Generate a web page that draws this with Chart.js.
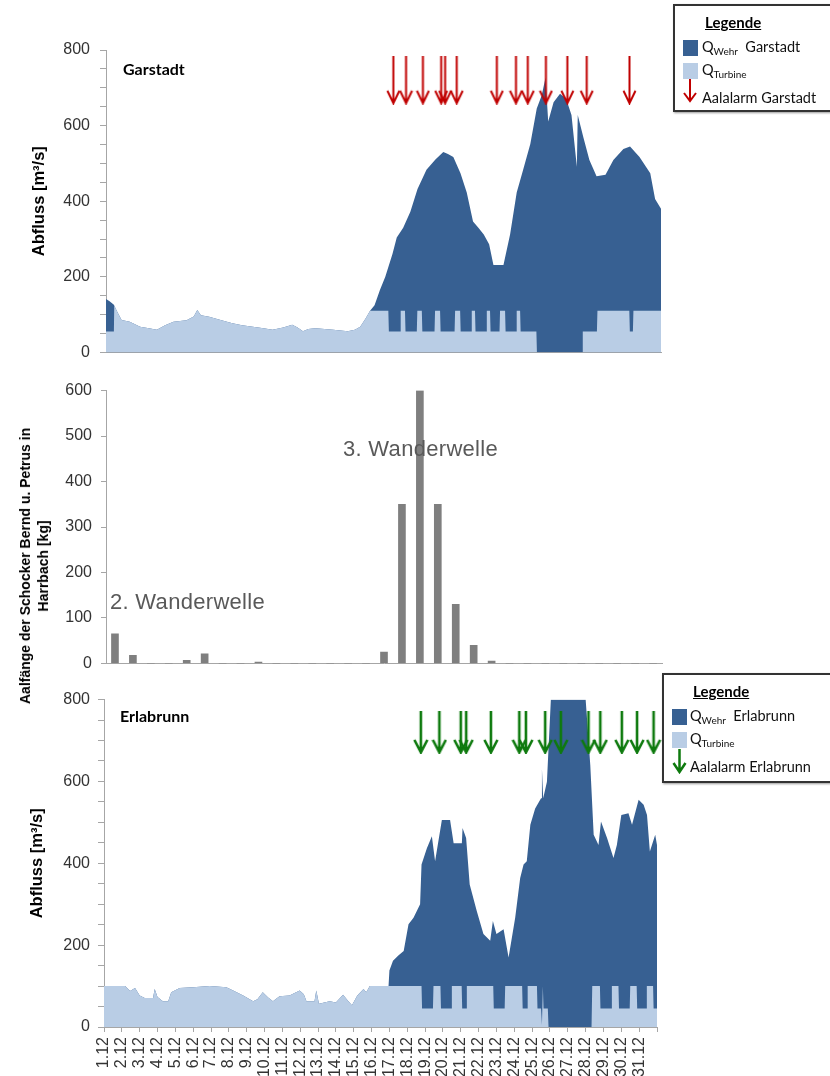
<!DOCTYPE html>
<html>
<head>
<meta charset="utf-8">
<script src="https://cdn.jsdelivr.net/npm/chart.js@4.4.1/dist/chart.umd.min.js"></script>
<style>
  body { margin: 0; background: #fff; }
  #page { position: relative; width: 830px; height: 1076px; overflow: hidden; font-family: 'Liberation Sans', Arial, sans-serif; }
  canvas { position: absolute; left: 0; }
  .txt { position: absolute; white-space: nowrap; line-height: 1; }
  .cal { font-family: Lato, 'Open Sans', sans-serif; }
  .legbox { position: absolute; border: 2px solid #333; background: #fff; box-shadow: 1px 1px 2px #999; }
  .sq { position: absolute; width: 15px; height: 16px; }
  .legtxt { font-size: 14.5px; color: #111; }
  .legtxt sub { font-size: 10px; vertical-align: -3px; }
  .wave { font-size: 22px; color: #595959; letter-spacing: 0.3px; }
</style>
</head>
<body>
<div id="page">
  <canvas id="garChart" width="830" height="372" style="top:0"></canvas>
  <canvas id="catchChart" width="830" height="310" style="top:372px"></canvas>
  <canvas id="erlChart" width="830" height="394" style="top:682px"></canvas>

  <div class="txt cal" style="left:123px;top:61px;font-size:16px;font-weight:bold;">Garstadt</div>
  <div class="txt cal" style="left:120px;top:708px;font-size:16px;font-weight:bold;">Erlabrunn</div>
  <div class="txt wave" style="left:110px;top:591px;">2. Wanderwelle</div>
  <div class="txt wave" style="left:343px;top:438px;">3. Wanderwelle</div>

  <div class="txt" style="left:34px;top:566px;transform:translate(-50%,-50%) rotate(-90deg);text-align:center;font-weight:bold;font-size:14px;line-height:18px;">Aalfänge der Schocker Bernd u. Petrus in<br>Harrbach [kg]</div>

  <!-- Legende Garstadt -->
  <div class="legbox" style="left:673px;top:4px;width:160px;height:104px;"></div>
  <div class="txt cal" style="left:705px;top:15px;font-size:15px;font-weight:bold;text-decoration:underline;">Legende</div>
  <div class="sq" style="left:683px;top:40px;background:#376092;"></div>
  <div class="txt cal legtxt" style="left:702px;top:40px;">Q<sub>Wehr</sub>&nbsp; Garstadt</div>
  <div class="sq" style="left:683px;top:63px;background:#b9cde5;"></div>
  <div class="txt cal legtxt" style="left:702px;top:63px;">Q<sub>Turbine</sub></div>
  <svg style="position:absolute;left:683px;top:79px" width="14" height="24"><path d="M7 0 L7 22 M1 14 L7 22 L13 14" stroke="#c00000" stroke-width="2" fill="none"/></svg>
  <div class="txt cal legtxt" style="left:702px;top:91px;">Aalalarm Garstadt</div>

  <!-- Legende Erlabrunn -->
  <div class="legbox" style="left:662px;top:673px;width:170px;height:106px;"></div>
  <div class="txt cal" style="left:693px;top:684px;font-size:15px;font-weight:bold;text-decoration:underline;">Legende</div>
  <div class="sq" style="left:672px;top:709px;background:#376092;"></div>
  <div class="txt cal legtxt" style="left:690px;top:709px;">Q<sub>Wehr</sub>&nbsp; Erlabrunn</div>
  <div class="sq" style="left:672px;top:732px;background:#b9cde5;"></div>
  <div class="txt cal legtxt" style="left:690px;top:732px;">Q<sub>Turbine</sub></div>
  <svg style="position:absolute;left:672px;top:749px" width="15" height="25"><path d="M7.5 0 L7.5 23 M1.5 14 L7.5 23 L13.5 14" stroke="#0e7a0e" stroke-width="2.5" fill="none"/></svg>
  <div class="txt cal legtxt" style="left:690px;top:760px;">Aalalarm Erlabrunn</div>
</div>

<script>
// x-Achse: Tage ab 1.12 (0 = 1.12 0 Uhr, 31 = Monatsende)
const dateLabels = ['1.12', '2.12', '3.12', '4.12', '5.12', '6.12', '7.12', '8.12', '9.12', '10.12',
  '11.12', '12.12', '13.12', '14.12', '15.12', '16.12', '17.12', '18.12', '19.12', '20.12',
  '21.12', '22.12', '23.12', '24.12', '25.12', '26.12', '27.12', '28.12', '29.12', '30.12', '31.12'];

// Garstadt [Tag, m3/s]
const garStart = [[0, 141], [0.2, 135], [0.44, 126]];
const garLow = [[0.46, 124], [0.6, 110], [0.87, 86], [1.33, 81], [1.9, 68], [2.4, 64], [2.84, 60], [3.3, 72],
  [3.77, 81], [4.5, 85], [4.9, 95], [5.1, 112], [5.3, 98], [5.76, 94], [6.4, 86], [7.06, 77], [7.6, 72],
  [8.2, 68], [8.8, 64], [9.3, 60], [9.9, 66], [10.4, 73], [10.7, 66], [11.0, 56], [11.3, 62], [11.7, 64],
  [12.2, 62], [12.7, 60], [13.1, 58], [13.5, 56], [13.9, 60], [14.2, 68], [14.5, 90], [14.75, 110]];
const garFlood = [[15.0, 125], [15.3, 165], [15.6, 200], [16.0, 260], [16.24, 304], [16.6, 330], [17.0, 372],
  [17.4, 432], [17.9, 483], [18.4, 510], [18.84, 530], [19.1, 525], [19.4, 517], [19.8, 474], [20.15, 423],
  [20.5, 346], [20.8, 330], [21.1, 312], [21.4, 286], [21.64, 231], [22.2, 231], [22.57, 312], [22.94, 423],
  [23.3, 483], [23.7, 551], [24.06, 645], [24.34, 680], [24.55, 727], [24.7, 611], [25.0, 662], [25.36, 684],
  [25.7, 671], [26.0, 628], [26.3, 491], [26.35, 628], [26.67, 568], [27.0, 509], [27.4, 466], [27.9, 470],
  [28.34, 509], [28.9, 538], [29.27, 545], [29.8, 517], [30.4, 474], [30.67, 406], [31.0, 380]];
const garTurbFlood = [[15.77, 110], [15.8, 55], [16.43, 55], [16.46, 110], [16.7, 110], [16.73, 55], [17.36, 55],
  [17.39, 110], [17.64, 110], [17.67, 55], [18.35, 55], [18.38, 110], [18.66, 110], [18.69, 55], [19.47, 55],
  [19.5, 110], [19.78, 110], [19.81, 55], [20.4, 55], [20.43, 110], [20.61, 110], [20.64, 55], [21.24, 55],
  [21.27, 110], [21.45, 110], [21.48, 55], [21.98, 55], [22.01, 110], [22.29, 110], [22.32, 55], [22.91, 55],
  [22.94, 110], [23.13, 110], [23.16, 55], [24.04, 55], [24.07, 0], [26.6, 0], [26.63, 55], [27.42, 55],
  [27.45, 110], [29.23, 110], [29.26, 55], [29.43, 55], [29.46, 110], [31, 110]];
const garAlarm = [16.05, 16.76, 17.7, 18.72, 18.94, 19.59, 21.83, 22.9, 23.56, 24.57, 25.77, 26.85, 29.24];

// Fänge Harrbach [kg] je Tag
const catchKg = [65, 18, 0, 0, 7, 21, 0, 0, 3, 0, 0, 0, 0, 0, 0, 25, 350, 600, 350, 130, 40, 5,
  0, 0, 0, 0, 0, 0, 0, 0, 0];

// Erlabrunn [Tag, m3/s]
const erlLow = [[0, 100], [1.18, 100], [1.46, 88], [1.74, 95], [2.0, 77], [2.28, 71], [2.75, 71], [2.84, 93],
  [3.0, 73], [3.3, 63], [3.6, 63], [3.77, 85], [4.24, 95], [4.99, 97], [5.93, 100], [6.86, 97], [7.24, 89],
  [7.8, 77], [8.36, 63], [8.6, 68], [8.9, 85], [9.2, 72], [9.47, 63], [9.84, 75], [10.4, 77], [10.97, 89],
  [11.2, 80], [11.35, 63], [11.8, 63], [11.9, 89], [12.05, 57], [12.65, 63], [13.0, 60], [13.4, 79],
  [13.7, 63], [13.9, 53], [14.2, 77], [14.55, 93], [14.7, 85], [14.9, 100], [15.95, 100]];
const erlFlood = [[16.0, 138], [16.2, 162], [16.5, 175], [16.8, 186], [17.07, 251], [17.35, 267], [17.72, 300],
  [17.8, 397], [18.1, 437], [18.38, 466], [18.56, 405], [18.94, 506], [19.4, 506], [19.6, 449], [20.06, 449],
  [20.1, 486], [20.3, 462], [20.5, 348], [20.9, 283], [21.27, 227], [21.65, 211], [21.8, 259], [22.0, 227],
  [22.4, 239], [22.68, 170], [23.05, 267], [23.33, 364], [23.52, 397], [23.7, 405], [23.9, 494], [24.17, 534],
  [24.5, 559], [24.55, 631], [24.62, 559], [24.83, 599], [25.05, 800], [27.0, 800], [27.26, 640], [27.45, 470],
  [27.72, 445], [27.86, 502], [28.2, 462], [28.56, 413], [28.75, 445], [29.0, 518], [29.4, 522], [29.6, 494],
  [29.97, 555], [30.25, 543], [30.44, 518], [30.6, 429], [30.9, 470], [31.0, 445]];
const erlTurbFlood = [[17.8, 100], [17.83, 45], [18.44, 45], [18.47, 100], [18.86, 100], [18.89, 45], [19.47, 45],
  [19.5, 100], [20.05, 100], [20.08, 45], [20.31, 45], [20.34, 100], [21.82, 100], [21.85, 45], [22.46, 45],
  [22.49, 100], [23.44, 100], [23.47, 45], [23.72, 45], [23.75, 100], [24.27, 100], [24.3, 45], [24.5, 45],
  [24.55, 5], [24.6, 100], [24.64, 45], [24.88, 45], [24.92, 0], [27.33, 0], [27.37, 100], [27.8, 100],
  [27.83, 45], [28.44, 45], [28.47, 100], [28.84, 100], [28.87, 45], [29.47, 45], [29.5, 100], [29.86, 100],
  [29.89, 45], [30.4, 45], [30.43, 100], [30.78, 100], [30.81, 45], [31, 45]];
const erlAlarm = [17.76, 18.8, 20.0, 20.3, 21.69, 23.28, 23.65, 24.73, 25.61, 27.16, 27.82, 29.03, 29.88, 30.81];

const alarmLevel = 720;
const darkBlue = '#376092';
const lightBlue = '#b9cde5';
const axisGrey = '#a6a6a6';

const toXY = arr => arr.map(p => ({ x: p[0], y: p[1] }));

function makeArrow(color, w, h, lw) {
  const c = document.createElement('canvas');
  c.width = w; c.height = h;
  const g = c.getContext('2d');
  g.strokeStyle = color;
  g.lineWidth = lw;
  g.beginPath();
  g.moveTo(w / 2, 0); g.lineTo(w / 2, h - 2);
  g.moveTo(1.5, h - 14); g.lineTo(w / 2, h - 1.5); g.lineTo(w - 1.5, h - 14);
  g.stroke();
  return c;
}
const redArrow = makeArrow('#c00000', 15, 49, 2);
const greenArrow = makeArrow('#0e7a0e', 16, 43, 2.6);

const tickFont = { family: 'Liberation Sans', size: 16 };
const titleFont = { family: 'Liberation Sans', size: 16.5, weight: 'bold' };

function flowChart(id, turbine, total, alarms, arrow, pad, withDates) {
  return new Chart(document.getElementById(id), {
    type: 'line',
    data: {
      datasets: [
        { type: 'scatter', data: alarms.map(d => ({ x: d, y: alarmLevel })), pointStyle: arrow, pointRadius: 5, clip: false },
        { data: toXY(turbine), backgroundColor: lightBlue, borderColor: 'rgba(0,0,0,0)', borderWidth: 0, fill: 'origin', pointRadius: 0, tension: 0 },
        { data: toXY(total), backgroundColor: darkBlue, borderColor: 'rgba(0,0,0,0)', borderWidth: 0, fill: 'origin', pointRadius: 0, tension: 0 }
      ]
    },
    options: {
      responsive: false,
      animation: false,
      events: [],
      layout: { padding: pad },
      plugins: { legend: { display: false }, tooltip: { enabled: false } },
      scales: {
        x: withDates ? {
          type: 'linear', min: 0, max: 31,
          afterFit: s => { s.height = 49; },
          ticks: { stepSize: 1, autoSkip: false, minRotation: 90, maxRotation: 90, padding: 5, color: '#333',
            font: { family: 'Liberation Sans', size: 16 }, callback: v => dateLabels[v] ?? '' },
          grid: { drawOnChartArea: false, tickLength: 5, color: axisGrey },
          border: { color: axisGrey }
        } : {
          type: 'linear', min: 0, max: 31,
          afterFit: s => { s.height = 0; },
          ticks: { display: false },
          grid: { display: false },
          border: { color: axisGrey }
        },
        y: {
          min: 0, max: 800,
          afterFit: s => { s.width = 76; },
          ticks: { stepSize: 50, autoSkip: false, padding: withDates ? 8 : 10, color: '#333', font: tickFont,
            callback: v => v % 200 === 0 ? v : '' },
          grid: { drawOnChartArea: false, tickLength: 6, color: axisGrey },
          border: { color: axisGrey },
          title: { display: true, text: 'Abfluss [m³/s]', padding: 0, color: '#000', font: titleFont }
        }
      }
    }
  });
}

flowChart('garChart',
  [[0, 55], [0.44, 55]].concat(garLow, garTurbFlood),
  garStart.concat(garLow, garFlood),
  garAlarm, redArrow,
  { left: 30, right: 169, top: 50, bottom: 10 }, false);

flowChart('erlChart',
  erlLow.concat(erlTurbFlood),
  erlLow.concat(erlFlood),
  erlAlarm, greenArrow,
  { left: 28, right: 173, top: 15, bottom: 0 }, true);

new Chart(document.getElementById('catchChart'), {
  type: 'bar',
  data: {
    datasets: [{
      data: catchKg.map((v, i) => ({ x: i + 0.5, y: v })),
      backgroundColor: '#7f7f7f',
      barThickness: 7
    }]
  },
  options: {
    responsive: false,
    animation: false,
    events: [],
    layout: { padding: { left: 32, right: 168, top: 14, bottom: 13 } },
    plugins: { legend: { display: false }, tooltip: { enabled: false } },
    scales: {
      x: {
        type: 'linear', min: 0, max: 31, offset: false,
        afterFit: s => { s.height = 0; },
        ticks: { display: false },
        grid: { display: false, offset: false },
        border: { color: axisGrey }
      },
      y: {
        min: 0, max: 600,
        afterFit: s => { s.width = 74; },
        ticks: { stepSize: 100, padding: 9, color: '#333', font: tickFont },
        grid: { drawOnChartArea: false, tickLength: 5, color: axisGrey },
        border: { color: axisGrey }
      }
    }
  }
});
</script>
</body>
</html>
